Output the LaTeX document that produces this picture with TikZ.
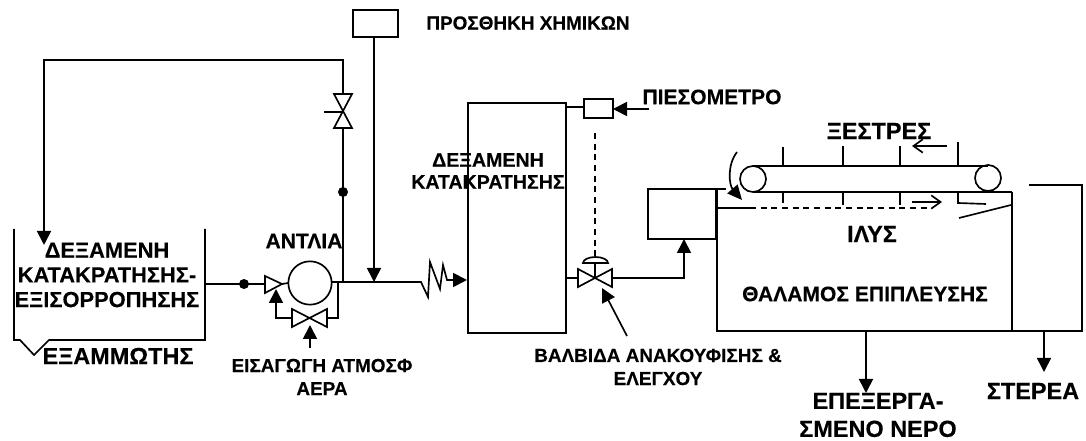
\documentclass[tikz,border=0pt]{standalone}
\usepackage{fontspec}
\setmainfont[BoldFeatures={FakeBold=0.25}]{Liberation Sans}
\usetikzlibrary{arrows.meta}
\tikzset{
  x=0.75pt,y=-0.75pt,
  pipe/.style={draw=black,line width=1.25pt},
  flow/.style={pipe,-{Triangle[length=10.5pt,width=10.5pt]}},
  openflow/.style={pipe,-{Straight Barb[length=7pt,width=10pt]}},
  dashpipe/.style={pipe,dash pattern=on 4.5pt off 3.5pt},
  vessel/.style={draw=black,line width=1.25pt,inner sep=0pt,outer sep=0pt},
  lbl/.style={font=\bfseries\fontsize{17.6}{21}\selectfont,align=center,inner sep=0pt},
  lblb/.style={font=\bfseries\fontsize{16.4}{18.5}\selectfont,align=center,inner sep=0pt},
  lblc/.style={font=\bfseries\fontsize{14.2}{17.3}\selectfont,align=center,inner sep=0pt},
  lbld/.style={font=\bfseries\fontsize{15.8}{18}\selectfont,align=center,inner sep=0pt},
  lble/.style={font=\bfseries\fontsize{14.7}{16.5}\selectfont,align=center,inner sep=0pt},
  dotn/.style={circle,fill=black,minimum size=7.5pt,inner sep=0pt},
}
\newcommand{\boxat}[5]{\node[vessel,rectangle,minimum width=#4*0.75pt,minimum height=#5*0.75pt,anchor=north west] (#1) at (#2,#3) {};}
\begin{document}
\begin{tikzpicture}
\useasboundingbox (0,0) rectangle (1086,441);
% settling tank
\coordinate (tl) at (14,229);
\coordinate (tb1) at (14,340);
\coordinate (tv1) at (20,340);
\coordinate (tv2) at (34,355);
\coordinate (tv3) at (49,340);
\coordinate (tb2) at (205,340);
\coordinate (tr) at (205,229);
\draw[pipe] (tl)--(tb1)--(tv1)--(tv2)--(tv3)--(tb2)--(tr);
% recycle
\coordinate (tap) at (343,282);
\node[dotn] (d2) at (343,192) {};
\coordinate (v1t) at (343,94);
\coordinate (v1b) at (343,128);
\coordinate (v1c) at (343,112);
\coordinate (rtop) at (343,60);
\coordinate (rleft) at (44,60);
\coordinate (rend) at (44,245);
\draw[flow] (v1t)--(rtop)--(rleft)--(rend);
\draw[pipe] (v1b)--(tap);
\draw[pipe,fill=white] (334,94)--(352,94)--(334,128)--(352,128)--cycle;
\coordinate (v1h) at (324,112);
\draw[pipe] (v1h)--(v1c);
% chemicals
\boxat{chem}{353}{10}{45}{27}
\coordinate (chemj) at (374,282);
\draw[flow] (chem.south -| chemj)--(chemj);
% pump line
\coordinate (tout) at (205,284);
\node[dotn] (d1) at (244,284) {};
\node[circle,draw=black,line width=1.25pt,minimum size=32.5pt,inner sep=0pt,outer sep=0pt] (pump) at (310,283) {};
\coordinate (tri1) at (265,276);
\coordinate (tri2) at (265,293);
\coordinate (tri3) at (282,284);
\draw[pipe] (tout)--(tri3 -| tri1);
\draw[pipe] (tri3)--(pump.west);
\draw[pipe,fill=white] (tri1)--(tri3)--(tri2)--cycle;
% main line with flex
\coordinate (zz) at (421,282);
\coordinate (zzend) at (453,280);
\coordinate (tank2in) at (467,280);
\draw[pipe] (pump.east |- tap)--(zz)--(428,297)--(430,262)--(440,289)--(443,265)--(447,280)--(zzend);
\draw[flow] (zzend)--(tank2in);
% bypass
\coordinate (bp1) at (338,282);
\coordinate (bp2) at (338,318);
\coordinate (bvr) at (327,318);
\coordinate (bvl) at (292,318);
\coordinate (bp3) at (276,318);
\coordinate (bp4) at (276,289);
\draw[pipe] (bp1)--(bp2)--(bvr);
\draw[flow] (bvl)--(bp3)--(bp4);
\draw[pipe,fill=white] (292,309)--(327,327)--(327,309)--(292,327)--cycle;
\coordinate (air0) at (310,348);
\coordinate (air1) at (310,325);
\draw[flow] (air0)--(air1);
% retention tank
\boxat{tank}{468}{103}{98}{230}
\boxat{piezo}{584}{99}{29}{19}
\draw[pipe] (tank.east |- 0,107)--(piezo.west |- 0,107);
\coordinate (pz0) at (649,109);
\draw[flow] (pz0)--(piezo.east |- pz0);
% control valve
\coordinate (cvc) at (595,278);
\coordinate (dia) at (595,263);
\coordinate (pzd) at (595,133);
\coordinate (pze) at (595,256);
\draw[dashpipe] (pzd)--(pze);
\draw[pipe] (583,263) arc[start angle=180,end angle=0,x radius=12.5,y radius=-6] --cycle;
\draw[pipe] (dia)--(cvc);
\draw[pipe] (tank.east |- cvc)--(578,278);
\draw[pipe,fill=white] (578,269)--(612,287)--(612,269)--(578,287)--cycle;
\boxat{sat}{648}{189}{68}{50}
\coordinate (cv1) at (612,278);
\coordinate (cv2) at (684,278);
\draw[flow] (cv1)--(cv2)--(cv2 |- sat.south);
\coordinate (rv0) at (627,336);
\coordinate (rv1) at (602,288);
\draw[flow] (rv0)--(rv1);
% flotation chamber
\coordinate (fa) at (717,189);
\coordinate (fb) at (717,331);
\coordinate (fc) at (1082,331);
\coordinate (fd) at (1082,185);
\coordinate (fe) at (1029,185);
\draw[pipe] (726,189)--(fa)--(fb)--(fc)--(fd)--(fe);
\coordinate (fw) at (1012,192);
\coordinate (fwb) at (1012,331);
\draw[pipe] (fw)--(fwb);
% conveyor
\node[circle,draw=black,line width=1.25pt,minimum size=19.5pt,inner sep=0pt,outer sep=0pt] (r1) at (753,179) {};
\node[circle,draw=black,line width=1.25pt,minimum size=19.5pt,inner sep=0pt,outer sep=0pt] (r2) at (988,178) {};
\coordinate (ctl) at (753,166);
\coordinate (ctr) at (988,166);
\coordinate (cbl) at (753,192);
\draw[pipe] (ctl)--(ctr);
\draw[pipe] (cbl)--(fw);
\draw[pipe] (783,147)--(783,166) (843,146)--(843,166) (900,146)--(900,166) (958,142)--(958,166);
\draw[pipe] (783,192)--(783,203) (843,192)--(843,205) (900,192)--(900,205);
\draw[pipe] (958,192)--(958,203)--(986,204);
\draw[pipe] (959,218)--(1011,205);
\coordinate (sc0) at (947,146);
\coordinate (sc1) at (912,146);
\draw[openflow] (sc0)--(sc1);
\coordinate (sl0) at (912,202);
\coordinate (sl1) at (942,202);
\draw[openflow] (sl0)--(sl1);
\coordinate (cu0) at (737,152);
\coordinate (cu1) at (742,200);
\draw[pipe,-{Triangle[length=11pt,width=10pt]}] (cu0) .. controls (727,165) and (729,185) .. (cu1);
\coordinate (sk0) at (717,208);
\coordinate (sk1) at (750,208);
\coordinate (sk2) at (928,208);
\draw[pipe] (sk0)--(sk1);
\draw[dashpipe] (sk1)--(sk2);
% outlets
\coordinate (o1) at (866,331);
\coordinate (o1e) at (866,393);
\coordinate (o2) at (1044,331);
\coordinate (o2e) at (1044,372);
\draw[flow] (o1)--(o1e);
\draw[flow] (o2)--(o2e);
% labels
\node[lblc] (l1) at (528,23) {ΠΡΟΣΘΗΚΗ ΧΗΜΙΚΩΝ};
\node[lblb] (l2) at (107,275) {ΔΕΞΑΜΕΝΗ\\ΚΑΤΑΚΡΑΤΗΣΗΣ-\\ΕΞΙΣΟΡΡΟΠΗΣΗΣ};
\node[lbl] (l3) at (118,356) {ΕΞΑΜΜΩΤΗΣ};
\node[lbld] (l4) at (304,241) {ΑΝΤΛΙΑ};
\node[lblc] (l5) at (322,377) {ΕΙΣΑΓΩΓΗ ΑΤΜΟΣΦ\\ΑΕΡΑ};
\node[lble] (l7) at (488,171) {ΔΕΞΑΜΕΝΗ\\ΚΑΤΑΚΡΑΤΗΣΗΣ};
\node[lbld] (l8) at (712,97) {ΠΙΕΣΟΜΕΤΡΟ};
\node[lbl] (l9) at (879,131) {ΞΕΣΤΡΕΣ};
\node[lbl] (l10) at (872,234) {ΙΛΥΣ};
\node[lbld] (l11) at (865,294) {ΘΑΛΑΜΟΣ ΕΠΙΠΛΕΥΣΗΣ};
\node[lblc] (l12) at (658,367) {ΒΑΛΒΙΔΑ ΑΝΑΚΟΥΦΙΣΗΣ \&\\ΕΛΕΓΧΟΥ};
\node[lbl] (l13) at (878,415) {ΕΠΕΞΕΡΓΑ-\\ΣΜΕΝΟ ΝΕΡΟ};
\node[lbl] (l14) at (1033,391) {ΣΤΕΡΕΑ};
\end{tikzpicture}
\end{document}
